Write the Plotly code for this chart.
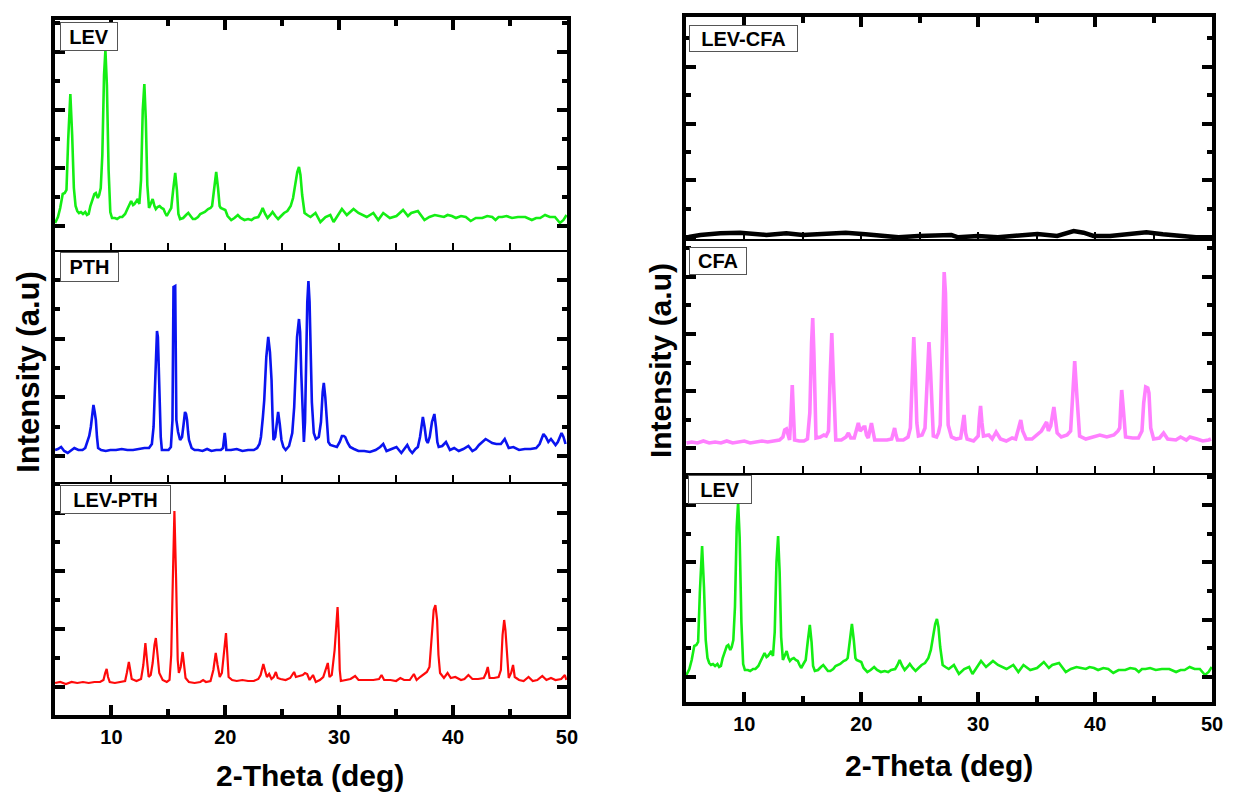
import plotly.graph_objects as go

W, H = 1236, 793

# ---------------- data (2-theta in deg, intensity in a.u.) ----------------
lev_2theta = [5.05, 5.3, 5.5, 5.72, 5.9, 6.05, 6.2, 6.39, 6.55, 6.7, 6.85, 7.0, 7.15, 7.32, 7.5, 7.7, 7.85, 8.0,
              8.15, 8.33, 8.5, 8.63, 8.8, 8.92, 9.06, 9.2, 9.35, 9.47, 9.6, 9.75, 9.9, 10.05, 10.3, 10.5, 10.75,
              10.95, 11.2, 11.4, 11.6, 11.73, 11.9, 12.02, 12.2, 12.31, 12.45, 12.6, 12.75, 12.89, 13.02, 13.15,
              13.3, 13.45, 13.62, 13.78, 13.9, 14.05, 14.23, 14.4, 14.57, 14.72, 14.86, 15.05, 15.25, 15.42, 15.6,
              15.75, 15.88, 16.03, 16.3, 16.55, 16.75, 16.95, 17.15, 17.35, 17.6, 17.8, 17.97, 18.2, 18.49, 18.7,
              18.84, 19.0, 19.2, 19.36, 19.5, 19.6, 19.8, 20.0, 20.2, 20.52, 20.8, 21.1, 21.35, 21.68, 22.0, 22.3,
              22.55, 22.9, 23.1, 23.28, 23.5, 23.71, 23.95, 24.15, 24.4, 24.64, 24.9, 25.16, 25.45, 25.74, 25.95,
              26.15, 26.32, 26.47, 26.6, 26.75, 26.96, 27.2, 27.48, 27.92, 28.35, 28.8, 29.22, 29.51, 29.9, 30.24,
              30.67, 31.0, 31.26, 31.69, 32.05, 32.42, 33.0, 33.43, 33.87, 34.45, 35.03, 35.61, 36.04, 36.33, 36.91,
              37.2, 37.49, 37.92, 38.4, 38.8, 39.2, 39.52, 39.9, 40.25, 40.7, 41.12, 41.55, 42.0, 42.57, 43.0, 43.44,
              43.73, 44.0, 44.31, 44.7, 45.18, 45.7, 46.34, 46.92, 47.3, 47.65, 48.08, 48.5, 48.95, 49.39, 49.7, 49.97]
lev_intensity = [27, 33, 42, 56, 57, 60, 110, 156, 115, 62, 44, 39, 37, 38, 36, 38, 35, 36,
                 44, 50, 56, 57, 52, 55, 62, 95, 175, 200, 165, 80, 38, 32, 32, 31, 33,
                 33, 36, 41, 47, 49, 45, 46, 49, 51, 46, 70, 140, 166, 130, 65,
                 42, 46, 51, 44, 41, 43, 44, 42, 41, 37, 34, 38, 42, 60, 77,
                 60, 36, 31, 32, 35, 37, 34, 31, 31, 33, 36, 37, 38, 41, 42,
                 44, 58, 78, 62, 44, 42, 41, 40, 34, 30, 32, 35, 32, 30, 31, 30,
                 32, 33, 37, 42, 36, 32, 35, 38, 34, 31, 34, 37, 39, 44, 52,
                 65, 78, 83, 75, 55, 37, 35, 33, 37, 28, 33, 35, 28, 35, 41,
                 35, 38, 41, 37, 35, 33, 37, 30, 37, 32, 34, 40, 34, 37, 39,
                 35, 30, 33, 35, 34, 33, 35, 34, 32, 34, 33, 29, 32, 32, 34, 33,
                 30, 33, 33, 34, 32, 33, 33, 30, 32, 32, 35, 33, 33, 27, 30, 35]

pth_2theta = [5.05, 5.3, 5.58, 5.85, 6.16, 6.45, 6.74, 7.1, 7.46, 7.7, 7.9, 8.05, 8.19, 8.32, 8.42, 8.53, 8.63,
              8.73, 8.83, 9.1, 9.5, 9.9, 10.4, 10.9, 11.4, 11.9, 12.4, 12.9, 13.3, 13.55, 13.7, 13.85, 13.94, 14.0,
              14.08, 14.16, 14.23, 14.33, 14.43, 14.7, 15.01, 15.22, 15.36, 15.45, 15.6, 15.7, 15.85, 16.03, 16.2,
              16.34, 16.46, 16.55, 16.64, 16.73, 16.81, 17.04, 17.3, 17.62, 18.0, 18.4, 18.78, 19.2, 19.6, 19.8,
              19.9, 19.95, 20.02, 20.09, 20.5, 21.0, 21.5, 22.0, 22.5, 22.8, 23.0, 23.13, 23.3, 23.42, 23.6, 23.77,
              23.92, 24.06, 24.15, 24.23, 24.38, 24.52, 24.64, 24.78, 24.93, 25.1, 25.3, 25.6, 25.88, 26.05, 26.17,
              26.3, 26.47, 26.57, 26.67, 26.8, 26.9, 27.0, 27.1, 27.2, 27.3, 27.4, 27.5, 27.6, 27.77, 27.95, 28.21,
              28.4, 28.55, 28.65, 28.78, 28.93, 29.05, 29.22, 29.5, 29.8, 30.05, 30.24, 30.4, 30.53, 30.75, 30.96,
              31.3, 31.69, 32.2, 32.7, 33.2, 33.6, 33.87, 34.16, 34.6, 35.03, 35.46, 35.75, 35.98, 36.2, 36.42,
              36.7, 36.91, 37.1, 37.25, 37.35, 37.5, 37.65, 37.78, 37.95, 38.15, 38.36, 38.5, 38.62, 38.74, 39.05,
              39.38, 39.73, 40.1, 40.5, 40.9, 41.35, 41.7, 42.0, 42.28, 42.6, 42.86, 43.15, 43.44, 43.8, 44.2,
              44.54, 44.89, 45.3, 45.8, 46.3, 46.8, 47.3, 47.6, 47.94, 48.15, 48.37, 48.6, 48.8, 49.0, 49.2, 49.53,
              49.7, 49.88]
pth_intensity = [32, 33, 35, 31, 29, 32, 34, 32, 32, 34, 40, 46, 55, 70, 77, 70, 62,
                 45, 34, 32, 31, 32, 32, 33, 32, 32, 33, 34, 34, 38, 55, 109, 149, 151,
                 145, 110, 85, 45, 32, 32, 32, 35, 62, 195, 196, 62, 50, 42, 45,
                 58, 70, 68, 62, 50, 42, 34, 32, 32, 31, 33, 31, 32, 32, 34,
                 46, 49, 42, 32, 32, 33, 31, 32, 32, 34, 38, 45, 65, 82, 125, 145,
                 130, 102, 65, 42, 45, 60, 70, 58, 42, 35, 32, 36, 49, 75, 102,
                 145, 163, 150, 109, 60, 40, 60, 120, 180, 201, 180, 130, 80, 49, 43, 45,
                 60, 90, 99, 85, 55, 40, 37, 36, 35, 40, 46, 46, 45, 39, 35,
                 33, 31, 31, 30, 32, 35, 38, 31, 33, 35, 29, 33, 37, 32, 29,
                 33, 35, 45, 60, 65, 55, 42, 39, 45, 60, 68, 55, 40, 35, 36,
                 40, 32, 34, 31, 33, 36, 31, 33, 37, 40, 43, 41, 39, 38, 38,
                 43, 34, 35, 32, 33, 33, 34, 38, 48, 45, 40, 43, 40, 37, 40, 49,
                 45, 38]

levpth_2theta = [5.05, 5.5, 6.0, 6.5, 7.0, 7.5, 8.0, 8.5, 9.0, 9.3, 9.45, 9.58, 9.7, 9.85, 10.3, 10.8, 11.2,
                 11.35, 11.53, 11.65, 11.78, 12.2, 12.6, 12.8, 12.98, 13.12, 13.27, 13.45, 13.62, 13.78, 13.9,
                 14.05, 14.2, 14.5, 14.86, 15.1, 15.25, 15.39, 15.53, 15.68, 15.82, 15.92, 16.08, 16.25, 16.38,
                 16.51, 16.8, 17.3, 17.8, 18.05, 18.3, 18.7, 18.95, 19.16, 19.32, 19.51, 19.7, 19.88, 20.06, 20.18,
                 20.29, 20.6, 21.0, 21.5, 22.0, 22.5, 22.9, 23.1, 23.34, 23.5, 23.65, 23.85, 24.05, 24.25, 24.44,
                 24.6, 24.85, 25.3, 25.7, 26.04, 26.2, 26.5, 26.8, 27.0, 27.19, 27.4, 27.7, 27.95, 28.3, 28.6,
                 28.8, 29.0, 29.15, 29.35, 29.6, 29.76, 29.86, 29.97, 30.05, 30.15, 30.6, 31.0, 31.4, 31.7, 32.3,
                 33.0, 33.5, 33.72, 33.95, 34.5, 35.0, 35.37, 35.7, 36.2, 36.56, 36.8, 37.1, 37.4, 37.7, 37.93,
                 38.1, 38.3, 38.45, 38.6, 38.72, 38.86, 39.2, 39.52, 39.8, 40.2, 40.7, 41.0, 41.35, 41.7, 42.2,
                 42.7, 42.9, 43.05, 43.21, 43.6, 44.0, 44.2, 44.35, 44.49, 44.6, 44.67, 44.78, 44.89, 45.1, 45.27,
                 45.42, 45.8, 46.2, 46.63, 47.0, 47.4, 47.84, 48.2, 48.6, 49.0, 49.5, 49.82, 49.95]
levpth_intensity = [32, 33, 31, 33, 32, 33, 32, 33, 33, 35, 42, 46, 38, 33, 32, 33, 34,
                    42, 53, 45, 36, 34, 36, 50, 72, 55, 38, 40, 52, 70, 77,
                    60, 42, 35, 33, 35, 60, 135, 204, 135, 55, 42, 48, 63, 50,
                    37, 33, 32, 33, 35, 33, 34, 45, 62, 50, 38, 42, 60, 82, 60,
                    38, 35, 34, 35, 34, 34, 36, 40, 51, 44, 38, 41, 36, 38, 43,
                    37, 36, 35, 37, 43, 38, 39, 40, 42, 41, 35, 40, 33, 35, 38,
                    45, 52, 38, 40, 65, 100, 108, 80, 45, 34, 35, 36, 39, 35, 35,
                    35, 36, 40, 35, 35, 34, 37, 35, 35, 41, 35, 38, 41, 43, 48,
                    75, 105, 110, 95, 60, 42, 37, 42, 37, 38, 35, 36, 40, 36, 36,
                    37, 42, 48, 37, 37, 38, 45, 80, 95, 85, 72, 55, 37, 42, 50,
                    38, 35, 34, 38, 34, 35, 39, 35, 37, 35, 36, 40, 35]

levcfa_2theta = [5.25, 6.24, 7.94, 9.64, 11.89, 13.59, 15.0, 16.42, 18.67, 20.36, 22.06, 23.19, 24.89, 27.71,
                 28.28, 29.97, 31.67, 33.36, 35.06, 36.75, 37.6, 38.16, 39.01, 39.86, 41.27, 42.97, 44.38, 45.79,
                 47.47, 48.62, 49.95]
levcfa_intensity = [2, 4, 5.7, 6.3, 4, 5.7, 4, 4.7, 6.3, 4.7, 3, 1.7, 3, 4,
                    1.7, 3, 1.7, 3, 5, 3, 6.3, 8, 6.3, 3, 3, 4.7, 6.7, 4.7,
                    2.3, 1.7, 1.7]

cfa_2theta = [5.06, 5.5, 6.0, 6.5, 7.0, 7.5, 8.0, 8.5, 9.0, 9.5, 10.0, 10.5, 11.0, 11.5, 12.0, 12.5, 13.0, 13.3,
              13.45, 13.6, 13.75, 13.87, 13.98, 14.1, 14.2, 14.3, 14.7, 15.1, 15.4, 15.6, 15.75, 15.85, 15.95,
              16.05, 16.13, 16.5, 16.8, 17.0, 17.2, 17.35, 17.48, 17.6, 17.72, 17.82, 18.3, 18.7, 18.9, 19.1,
              19.4, 19.6, 19.75, 19.9, 20.05, 20.2, 20.31, 20.45, 20.6, 20.75, 20.87, 21.0, 21.15, 21.6, 22.2,
              22.6, 22.75, 22.85, 22.97, 23.1, 23.6, 24.0, 24.2, 24.35, 24.49, 24.62, 24.75, 24.89, 25.2, 25.45,
              25.62, 25.79, 25.93, 26.05, 26.16, 26.44, 26.6, 26.75, 26.9, 27.0, 27.09, 27.2, 27.3, 27.43, 27.71,
              28.1, 28.5, 28.65, 28.79, 28.92, 29.05, 29.6, 30.0, 30.1, 30.2, 30.32, 30.45, 30.9, 31.2, 31.53,
              31.9, 32.4, 32.9, 33.2, 33.45, 33.64, 33.8, 34.1, 34.6, 35.0, 35.4, 35.6, 35.85, 36.0, 36.2, 36.35,
              36.47, 36.6, 36.75, 37.1, 37.6, 37.9, 38.05, 38.25, 38.45, 38.67, 39.2, 39.8, 40.4, 41.0, 41.6,
              41.95, 42.1, 42.2, 42.27, 42.4, 42.6, 43.2, 43.7, 44.0, 44.15, 44.32, 44.5, 44.6, 44.75, 45.0, 45.5,
              45.85, 46.2, 46.9, 47.3, 47.8, 48.1, 48.7, 49.2, 49.7, 49.9]
cfa_intensity = [30, 31, 30, 32, 30, 31, 30, 32, 30, 31, 32, 30, 31, 32, 31, 32, 33, 36,
                 43, 44, 36, 33, 55, 88, 60, 33, 32, 32, 34, 60, 130, 155, 120,
                 50, 35, 36, 38, 37, 42, 100, 140, 100, 45, 33, 33, 36, 40, 35,
                 35, 42, 50, 42, 44, 46, 46, 38, 35, 45, 50, 42, 33, 33, 33,
                 34, 40, 45, 38, 33, 33, 36, 45, 100, 136, 100, 50, 37, 38, 45,
                 90, 131, 100, 55, 37, 36, 40, 48, 110, 180, 201, 180, 110, 48, 36,
                 34, 35, 45, 58, 40, 34, 32, 37, 55, 67, 50, 37, 38, 34, 41,
                 34, 32, 35, 34, 44, 53, 42, 34, 34, 38, 42, 46, 51, 42, 47, 58,
                 66, 54, 40, 36, 38, 42, 70, 112, 75, 37, 34, 36, 38, 36, 38,
                 42, 45, 70, 83, 65, 36, 35, 35, 42, 70, 86, 85, 80, 45, 34, 35,
                 40, 34, 33, 36, 33, 36, 34, 32, 33, 34]

sample_labels = ["LEV", "PTH", "LEV-PTH", "LEV-CFA", "CFA", "LEV"]
x_title = "2-Theta (deg)"
y_title = "Intensity (a.u)"

# ---------------- styling ----------------
FONT = "Liberation Sans, Arial, sans-serif"
GREEN = "#14ee14"
BLUE = "#0a14f0"
RED = "#ff0a0a"
BLACK = "#000000"
PINK = "#ff80ff"


def xdom(left, right):
    return [left / W, right / W]


def ydom(top, bottom):
    return [1 - bottom / H, 1 - top / H]


LEFT = xdom(55, 572)
RIGHT = xdom(692, 1223)

# (xdomain, top px, bottom px, tick0, dtick, position)
subplots = [
    (LEFT, 20, 250, 24.3, 58.0, "top"),
    (LEFT, 250, 482, 26.0, 58.7, "mid"),
    (LEFT, 482, 715, 27.7, 58.0, "bottom"),
    (RIGHT, 17, 239, 1.7, 56.9, "top"),
    (RIGHT, 239, 473, 24.7, 57.2, "mid"),
    (RIGHT, 473, 702, 25.3, 57.2, "bottom"),
]

series = [
    (lev_2theta, lev_intensity, GREEN, 2.6),
    (pth_2theta, pth_intensity, BLUE, 2.6),
    (levpth_2theta, levpth_intensity, RED, 2.2),
    (levcfa_2theta, levcfa_intensity, BLACK, 4.5),
    (cfa_2theta, cfa_intensity, PINK, 3.6),
    (lev_2theta, lev_intensity, GREEN, 2.6),
]

fig = go.Figure()
for i, (xs, ys, col, lw) in enumerate(series):
    n = "" if i == 0 else str(i + 1)
    fig.add_trace(go.Scatter(x=xs, y=ys, mode="lines", line=dict(color=col, width=lw),
                             xaxis="x" + n, yaxis="y" + n, hoverinfo="skip", showlegend=False))

# empty traces to make sure the top frame axes exist
fig.add_trace(go.Scatter(x=[], y=[], xaxis="x7", yaxis="y", showlegend=False, hoverinfo="skip"))
fig.add_trace(go.Scatter(x=[], y=[], xaxis="x8", yaxis="y4", showlegend=False, hoverinfo="skip"))

layout = dict(width=W, height=H, autosize=False, margin=dict(l=0, r=0, t=0, b=0),
              paper_bgcolor="white", plot_bgcolor="white", showlegend=False,
              font=dict(family=FONT, color="black"))

for i, (xd, top, bot, t0, dt, pos) in enumerate(subplots):
    n = "" if i == 0 else str(i + 1)
    yax = dict(domain=ydom(top, bot), anchor="x" + n, range=[0, bot - top],
               showline=True, linewidth=4, linecolor="black", mirror="ticks",
               ticks="inside", ticklen=10, tickwidth=3.5, tickcolor="black",
               tickmode="linear", tick0=t0, dtick=dt,
               minor=dict(ticks="inside", ticklen=5, tickwidth=3.5, tickcolor="black",
                          tick0=t0, dtick=dt / 2, showgrid=False),
               showticklabels=False, showgrid=False, zeroline=False, fixedrange=True)
    xax = dict(domain=xd, anchor="y" + n, range=[5, 50], showgrid=False, zeroline=False,
               showline=True, linecolor="black", fixedrange=True)
    if pos == "bottom":
        xax.update(linewidth=4, ticks="inside", ticklen=10, tickwidth=3.5, tickcolor="black",
                   tickmode="linear", tick0=0, dtick=10,
                   minor=dict(ticks="inside", ticklen=6, tickwidth=3.5, tickcolor="black",
                              tick0=0, dtick=5, showgrid=False),
                   showticklabels=True, ticklabelstandoff=1,
                   tickfont=dict(family=FONT, size=20, color="black", weight="bold"))
    else:
        xax.update(linewidth=1.5, ticks="inside", ticklen=7, tickwidth=1.5, tickcolor="black",
                   tickmode="linear", tick0=0, dtick=5, showticklabels=False)
    layout["xaxis" + n] = xax
    layout["yaxis" + n] = yax

for name, base, anc, xd in [("xaxis7", "x", "y", LEFT), ("xaxis8", "x4", "y4", RIGHT)]:
    layout[name] = dict(overlaying=base, side="top", anchor=anc, domain=xd, range=[5, 50],
                        showline=True, linewidth=4, linecolor="black",
                        ticks="inside", ticklen=10, tickwidth=3.5, tickcolor="black",
                        tickmode="linear", tick0=0, dtick=10,
                        minor=dict(ticks="inside", ticklen=6, tickwidth=3.5, tickcolor="black",
                                   tick0=0, dtick=5, showgrid=False),
                        showticklabels=False, showgrid=False, zeroline=False, fixedrange=True)

annotations = []
# sample label boxes: (left, top, right, bottom) in px
boxes = [(61, 22, 119, 51), (61, 252, 120, 282), (61, 485, 172, 514),
         (695, 25, 804, 52), (695, 247, 753, 275), (694, 475, 758, 504)]
for txt, (l, t, r, b) in zip(sample_labels, boxes):
    annotations.append(dict(text=txt, xref="paper", yref="paper", x=l / W, y=1 - t / H,
                            xanchor="left", yanchor="top", showarrow=False,
                            width=r - l - 2, height=b - t - 2, align="center", valign="middle",
                            bgcolor="white", bordercolor="#555555", borderwidth=1, borderpad=0,
                            font=dict(family=FONT, size=20, color="black", weight="bold")))

for cx, cy in [(313, 775), (947, 765)]:
    annotations.append(dict(text=x_title, xref="paper", yref="paper", x=cx / W, y=1 - cy / H,
                            xanchor="center", yanchor="middle", showarrow=False,
                            font=dict(family=FONT, size=30, color="black", weight="bold")))
for cx, cy, fs in [(28, 372, 31), (667, 361, 30)]:
    annotations.append(dict(text=y_title, xref="paper", yref="paper", x=cx / W, y=1 - cy / H,
                            xanchor="center", yanchor="middle", showarrow=False, textangle=-90,
                            font=dict(family=FONT, size=fs, color="black", weight="bold")))

layout["annotations"] = annotations
fig.update_layout(**layout)
fig.write_html("out.html")
